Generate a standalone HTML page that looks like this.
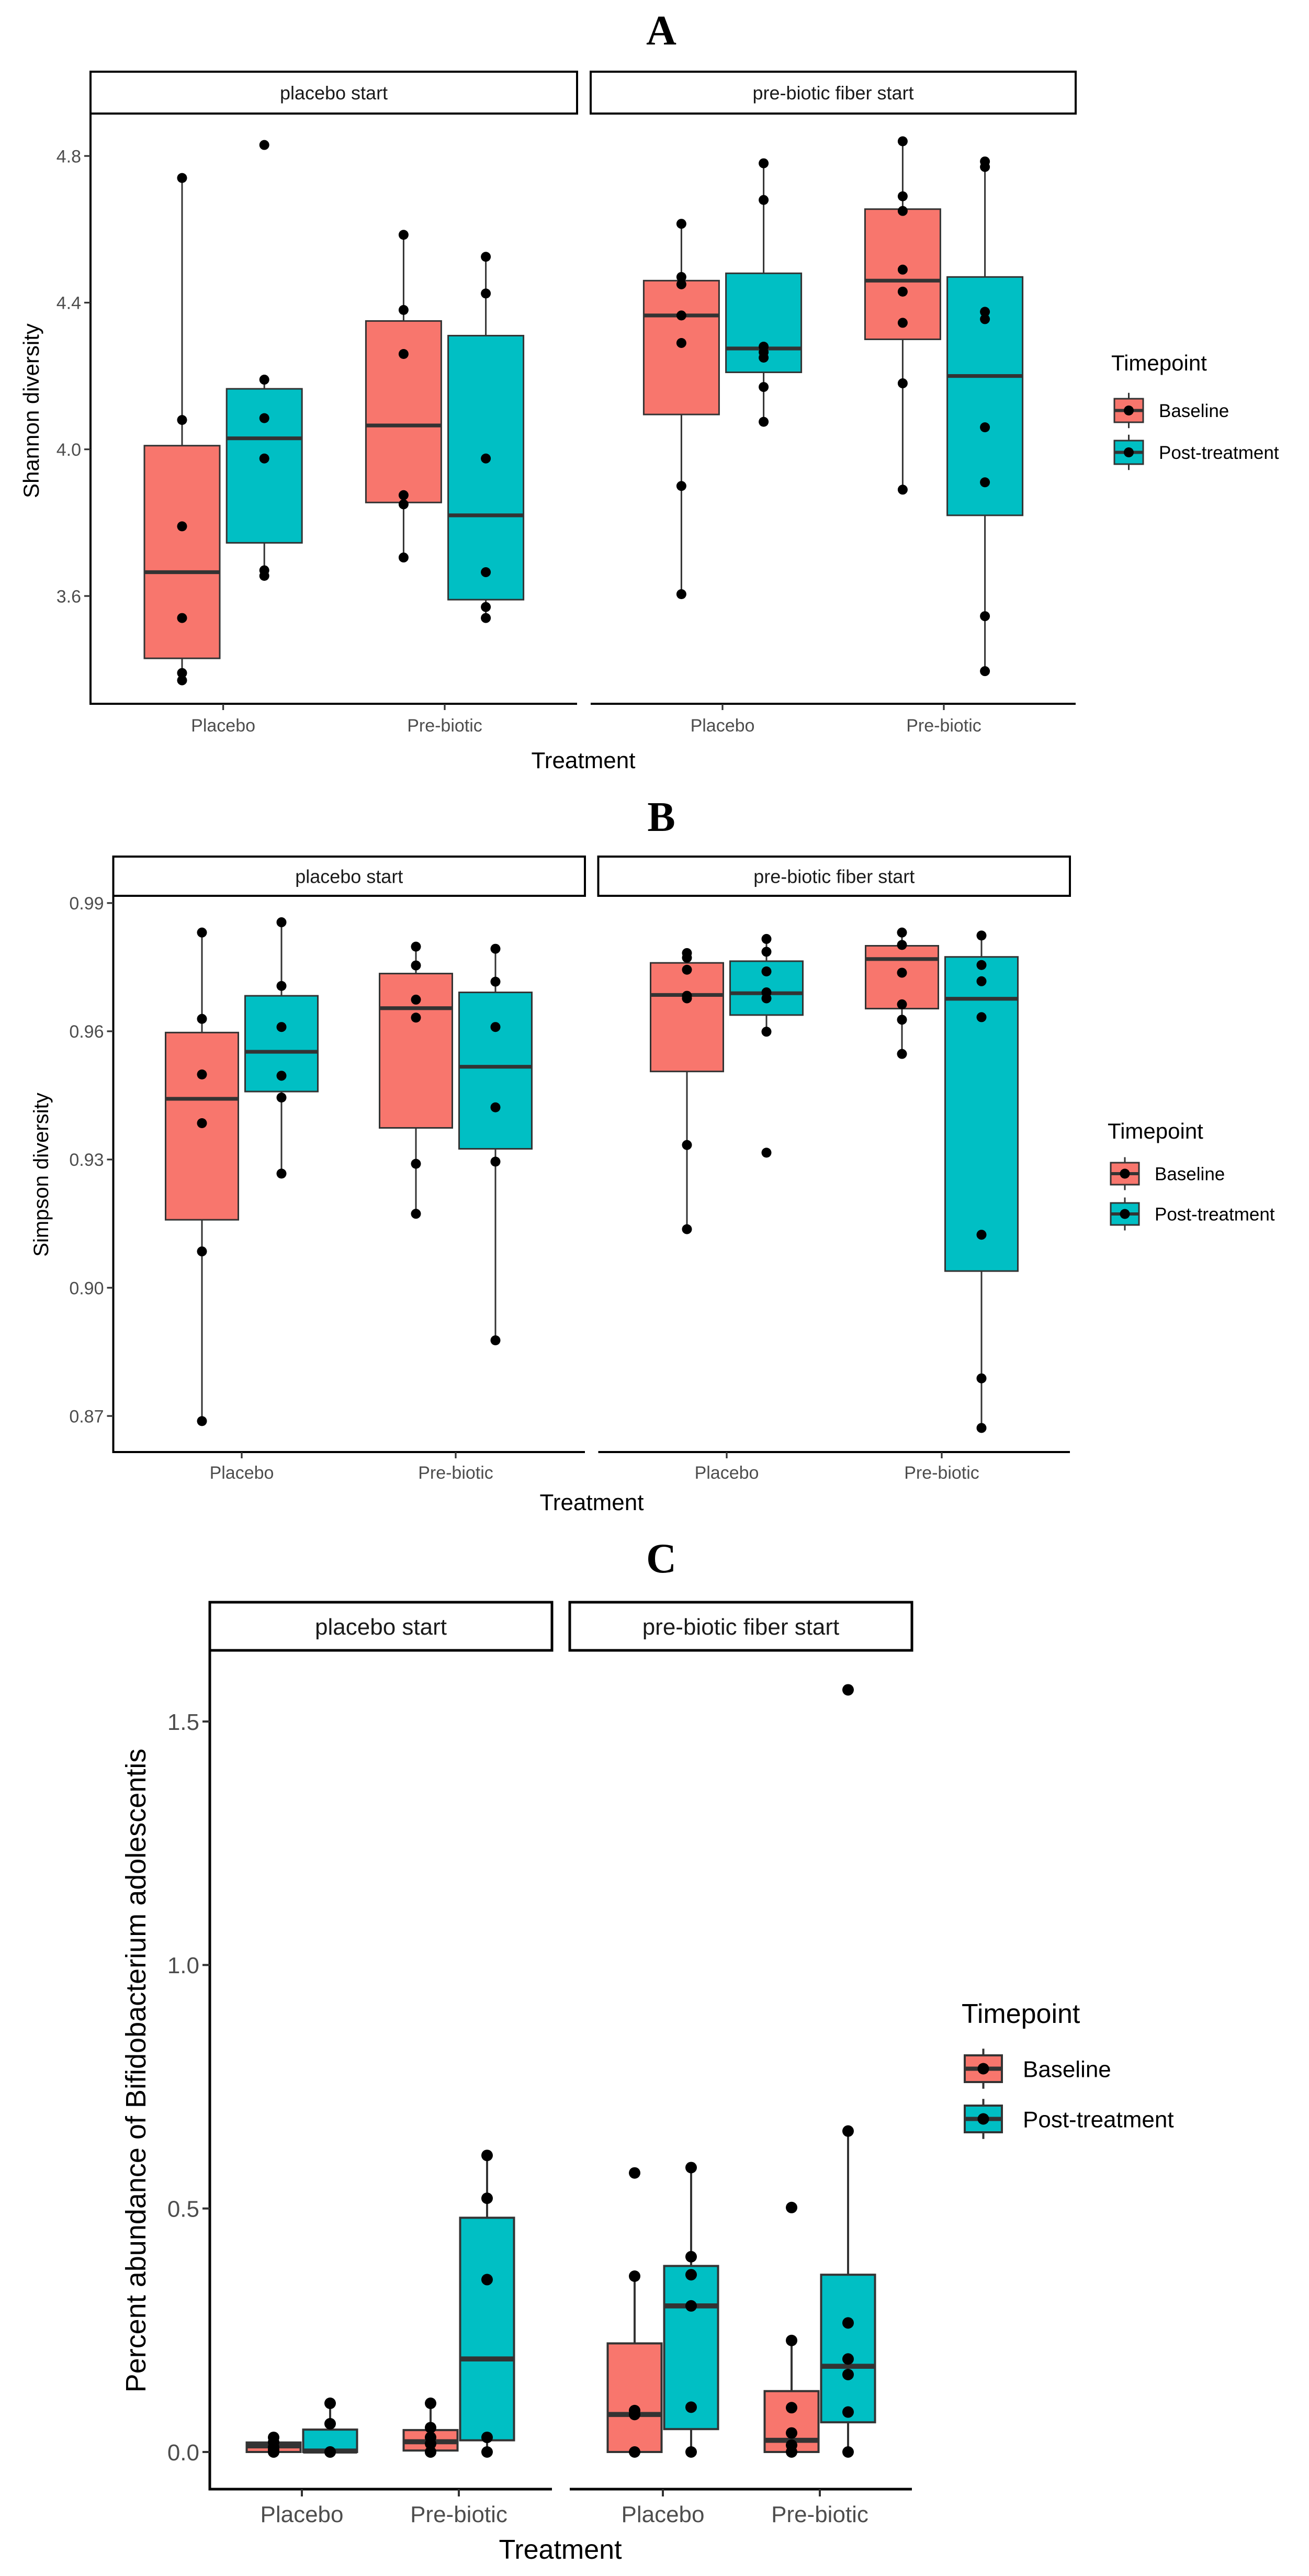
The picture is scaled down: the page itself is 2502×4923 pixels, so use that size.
<!DOCTYPE html>
<html><head><meta charset="utf-8"><title>Diversity boxplots</title>
<style>
html,body{margin:0;padding:0;background:#fff;}
svg{display:block;}
text{font-family:"Liberation Sans",Arial,sans-serif;}
text.ptitle{font-family:"Liberation Serif","Times New Roman",serif;font-weight:bold;}
</style></head>
<body>
<svg id="fig" xmlns="http://www.w3.org/2000/svg" width="2502" height="4923" viewBox="0 0 2502 4923">
<rect x="0" y="0" width="2502" height="4923" fill="#fff"/>
</svg>
<script>
// ---------- Panel A: Shannon diversity ----------
const aGroups = ["placebo start|Placebo","placebo start|Pre-biotic","pre-biotic fiber start|Placebo","pre-biotic fiber start|Pre-biotic"];
const aTicks = [3.6, 4.0, 4.4, 4.8];
const aTickLabels = ["3.6","4.0","4.4","4.8"];
// [q1, median, q3, whiskerLow, whiskerHigh]
const aBaselineBox = [[3.43,3.665,4.01,3.37,4.74],[3.855,4.065,4.35,3.705,4.585],[4.095,4.365,4.46,3.605,4.615],[4.30,4.46,4.655,3.89,4.84]];
const aPostBox = [[3.745,4.03,4.165,3.655,4.19],[3.59,3.82,4.31,3.54,4.525],[4.21,4.275,4.48,4.075,4.78],[3.82,4.20,4.47,3.395,4.785]];
const aBaselinePts = [[4.74,4.08,3.79,3.54,3.39,3.37],[4.585,4.38,4.26,3.875,3.85,3.705],[4.615,4.47,4.45,4.365,4.29,3.9,3.605],[4.84,4.69,4.65,4.49,4.43,4.345,4.18,3.89]];
const aPostPts = [[4.83,4.19,4.085,3.975,3.67,3.655],[4.525,4.425,3.975,3.665,3.57,3.54],[4.78,4.68,4.28,4.265,4.25,4.17,4.075],[4.785,4.77,4.375,4.355,4.06,3.91,3.545,3.395]];

// ---------- Panel B: Simpson diversity ----------
const bTicks = [0.87, 0.90, 0.93, 0.96, 0.99];
const bTickLabels = ["0.87","0.90","0.93","0.96","0.99"];
const bBaselineBox = [[0.9159,0.9442,0.9597,0.8688,0.9831],[0.9374,0.9654,0.9735,0.9173,0.9798],[0.9506,0.9685,0.976,0.9137,0.9783],[0.9653,0.9769,0.98,0.9547,0.9831]];
const bPostBox = [[0.9459,0.9552,0.9683,0.9267,0.9855],[0.9325,0.9517,0.9691,0.8877,0.9793],[0.9638,0.9689,0.9764,0.9599,0.9816],[0.9039,0.9676,0.9774,0.8672,0.9824]];
const bBaselinePts = [[0.9831,0.9629,0.9499,0.9385,0.9085,0.8688],[0.9798,0.9754,0.9674,0.9632,0.929,0.9173],[0.9783,0.9772,0.9744,0.9683,0.9677,0.9334,0.9137],[0.9831,0.9802,0.9737,0.9663,0.9627,0.9547]];
const bPostPts = [[0.9855,0.9706,0.961,0.9496,0.9445,0.9267],[0.9793,0.9716,0.961,0.9422,0.9295,0.8877],[0.9816,0.9786,0.974,0.9691,0.9677,0.9599,0.9316],[0.9824,0.9755,0.9717,0.9633,0.9124,0.8788,0.8672]];

// ---------- Panel C: Bifidobacterium adolescentis ----------
const cTicks = [0.0, 0.5, 1.0, 1.5];
const cTickLabels = ["0.0","0.5","1.0","1.5"];
const cBaselineBox = [[0.0,0.0125,0.0195,0.0,0.03],[0.003,0.021,0.045,0.0,0.10],[0.0,0.077,0.223,0.0,0.361],[0.0,0.024,0.125,0.0,0.229]];
const cPostBox = [[0.0,0.002,0.046,0.0,0.10],[0.024,0.191,0.481,0.0,0.609],[0.047,0.30,0.382,0.0,0.584],[0.061,0.176,0.364,0.0,0.659]];
const cBaselinePts = [[0.03,0.02,0.01,0.005,0.0,0.0],[0.10,0.05,0.03,0.017,0.0,0.0],[0.573,0.361,0.085,0.077,0.0],[0.502,0.229,0.091,0.039,0.014,0.0]];
const cPostPts = [[0.10,0.058,0.0,0.0,0.0],[0.609,0.521,0.354,0.03,0.0],[0.584,0.401,0.364,0.30,0.092,0.0],[1.565,0.659,0.265,0.191,0.159,0.082,0.0]];

const NS = "http://www.w3.org/2000/svg";
const svg = document.getElementById("fig");
function el(tag, attrs, parent, txt){
  const e = document.createElementNS(NS, tag);
  for (const k in attrs) e.setAttribute(k, attrs[k]);
  if (txt !== undefined) e.textContent = txt;
  (parent||svg).appendChild(e);
  return e;
}
const COL = ["#F8766D","#00BFC4"];

function drawPanel(L, boxes, pts, ticks, tickLabels){
  const g = el("g", {});
  
  
  const y = v => L.y0 - (v - L.v0) * L.k;
  const t = el("text",{x:L.titleX,y:L.titleY,"text-anchor":"middle","class":"ptitle","font-size":L.titleFs,fill:"#000"},g,L.title);
  
  
  L.facets.forEach((f,i)=>{
    const r = el("rect",{x:f[0],y:L.stripTop,width:f[1]-f[0],height:L.stripBot-L.stripTop,fill:"#fff",stroke:"#000","stroke-width":L.sw},g);
    
    
    const st = el("text",{x:(f[0]+f[1])/2,y:(L.stripTop+L.stripBot)/2+L.stripFs*0.36,"text-anchor":"middle","font-size":L.stripFs,fill:"#1a1a1a"},g,L.facetNames[i]);
    
    
    const ax = el("line",{x1:f[0],x2:f[1],y1:L.axisY,y2:L.axisY,stroke:"#000","stroke-width":L.sw},g);
    
    
  });
  const yax = el("line",{x1:L.facets[0][0],x2:L.facets[0][0],y1:L.stripBot,y2:L.axisY+L.sw/2,stroke:"#000","stroke-width":L.sw},g);
  
  
  ticks.forEach((v,i)=>{
    const tk = el("line",{x1:L.facets[0][0]-L.tickLen,x2:L.facets[0][0],y1:y(v),y2:y(v),stroke:"#333","stroke-width":L.sw*0.8},g);
    
    
    const tl = el("text",{x:L.facets[0][0]-L.tickLen-6,y:y(v)+L.tickFs*0.36,"text-anchor":"end","font-size":L.tickFs,fill:"#4d4d4d"},g,tickLabels[i]);
    
    
  });
  L.xTicks.forEach((x,i)=>{
    const tk = el("line",{x1:x,x2:x,y1:L.axisY,y2:L.axisY+L.tickLen,stroke:"#333","stroke-width":L.sw*0.8},g);
    
    
    const tl = el("text",{x:x,y:L.xLabY,"text-anchor":"middle","font-size":L.tickFs,fill:"#4d4d4d"},g,i%2===0?"Placebo":"Pre-biotic");
    
    
  });
  for (let s=0;s<2;s++){
    for (let i=0;i<4;i++){
      const b = boxes[s][i];
      const cx = L.xTicks[i] + (s===0?-1:1)*L.dodge;
      const bw = L.boxW;
      const wl = el("line",{x1:cx,x2:cx,y1:y(b[4]),y2:y(b[3]),stroke:"#333","stroke-width":L.lw},g);
      
      
      const r = el("rect",{x:cx-bw/2,y:y(b[2]),width:bw,height:Math.max(1,y(b[0])-y(b[2])),fill:COL[s],stroke:"#333","stroke-width":L.lw},g);
      
      
      const m = el("line",{x1:cx-bw/2,x2:cx+bw/2,y1:y(b[1]),y2:y(b[1]),stroke:"#333","stroke-width":L.lw*2.4},g);
      
      
      pts[s][i].forEach(v=>{
        const c = el("circle",{cx:cx,cy:y(v),r:L.pr,fill:"#000"},g);
        
        
      });
    }
  }
  const xt = el("text",{x:L.xTitleX,y:L.xTitleY,"text-anchor":"middle","font-size":L.axFs,fill:"#000"},g,"Treatment");
  
  
  const yt = el("text",{x:0,y:0,"text-anchor":"middle","font-size":L.yFs,fill:"#000",transform:`translate(${L.yTitleX},${L.yTitleY}) rotate(-90)`},g,L.yTitle);
  
  
  const lt = el("text",{x:L.legX,y:L.legTitleY,"font-size":L.legTitleFs,fill:"#000"},g,"Timepoint");
  
  
  ["Baseline","Post-treatment"].forEach((name,s)=>{
    const ky = L.legKeyY[s];
    const kx = L.legX + 6;
    const kg = el("g",{},g);
    
    
    el("line",{x1:kx+L.keyW/2,x2:kx+L.keyW/2,y1:ky-L.keyH*0.25,y2:ky+L.keyH*1.25,stroke:"#333","stroke-width":L.lw},kg);
    el("rect",{x:kx,y:ky,width:L.keyW,height:L.keyH,fill:COL[s],stroke:"#333","stroke-width":L.lw},kg);
    el("line",{x1:kx,x2:kx+L.keyW,y1:ky+L.keyH/2,y2:ky+L.keyH/2,stroke:"#333","stroke-width":L.lw*2},kg);
    el("circle",{cx:kx+L.keyW/2,cy:ky+L.keyH/2,r:L.pr,fill:"#000"},kg);
    el("text",{x:kx+L.keyW+L.keyGap,y:ky+L.keyH/2+L.legFs*0.36,"font-size":L.legFs,fill:"#000"},kg,name);
  });
}

const facetNames = ["placebo start","pre-biotic fiber start"];

drawPanel({id:"a",title:"A",titleX:1264,titleY:85,titleFs:80,
  facets:[[173,1103],[1129,2056]],facetNames,stripTop:137,stripBot:217,stripFs:36,sw:4,
  axisY:1345,v0:4.0,y0:858.7,k:700.8,tickLen:12,tickFs:34,
  xTicks:[426.6,850,1381,1804],xLabY:1398,dodge:78.6,boxW:144,lw:3,pr:9.5,
  xTitleX:1115,xTitleY:1468,axFs:44,yTitle:"Shannon diversity",yTitleX:74,yTitleY:785,yFs:42,
  legX:2124,legTitleY:708,legTitleFs:42,legKeyY:[762,842],keyW:55,keyH:45,keyGap:30,legFs:35},
  [aBaselineBox,aPostBox],[aBaselinePts,aPostPts],aTicks,aTickLabels);

drawPanel({id:"b",title:"B",titleX:1264,titleY:1588,titleFs:80,
  facets:[[216.5,1118],[1143.5,2045]],facetNames,stripTop:1637,stripBot:1712,stripFs:36,sw:4,
  axisY:2775,v0:0.99,y0:1725.8,k:8169,tickLen:12,tickFs:34,
  xTicks:[462,871,1389,1800],xLabY:2826,dodge:76,boxW:139,lw:3,pr:9.5,
  xTitleX:1131,xTitleY:2886,axFs:44,yTitle:"Simpson diversity",yTitleX:92,yTitleY:2245,yFs:40,
  legX:2117,legTitleY:2176,legTitleFs:42,legKeyY:[2222,2299],keyW:54,keyH:42,keyGap:30,legFs:35},
  [bBaselineBox,bPostBox],[bBaselinePts,bPostPts],bTicks,bTickLabels);

drawPanel({id:"c",title:"C",titleX:1264,titleY:3005,titleFs:80,
  facets:[[401,1055],[1089,1743]],facetNames,stripTop:3062,stripBot:3154,stripFs:44,sw:5,
  axisY:4757,v0:0.0,y0:4686,k:930.7,tickLen:14,tickFs:44,
  xTicks:[577,877,1267,1567],xLabY:4820,dodge:54,boxW:103,lw:4,pr:11,
  xTitleX:1071,xTitleY:4890,axFs:52,yTitle:"Percent abundance of Bifidobacterium adolescentis",yTitleX:278,yTitleY:3957,yFs:54,
  legX:1838,legTitleY:3866,legTitleFs:52,legKeyY:[3928,4024],keyW:71,keyH:51,keyGap:40,legFs:44},
  [cBaselineBox,cPostBox],[cBaselinePts,cPostPts],cTicks,cTickLabels);
</script>
</body></html>
